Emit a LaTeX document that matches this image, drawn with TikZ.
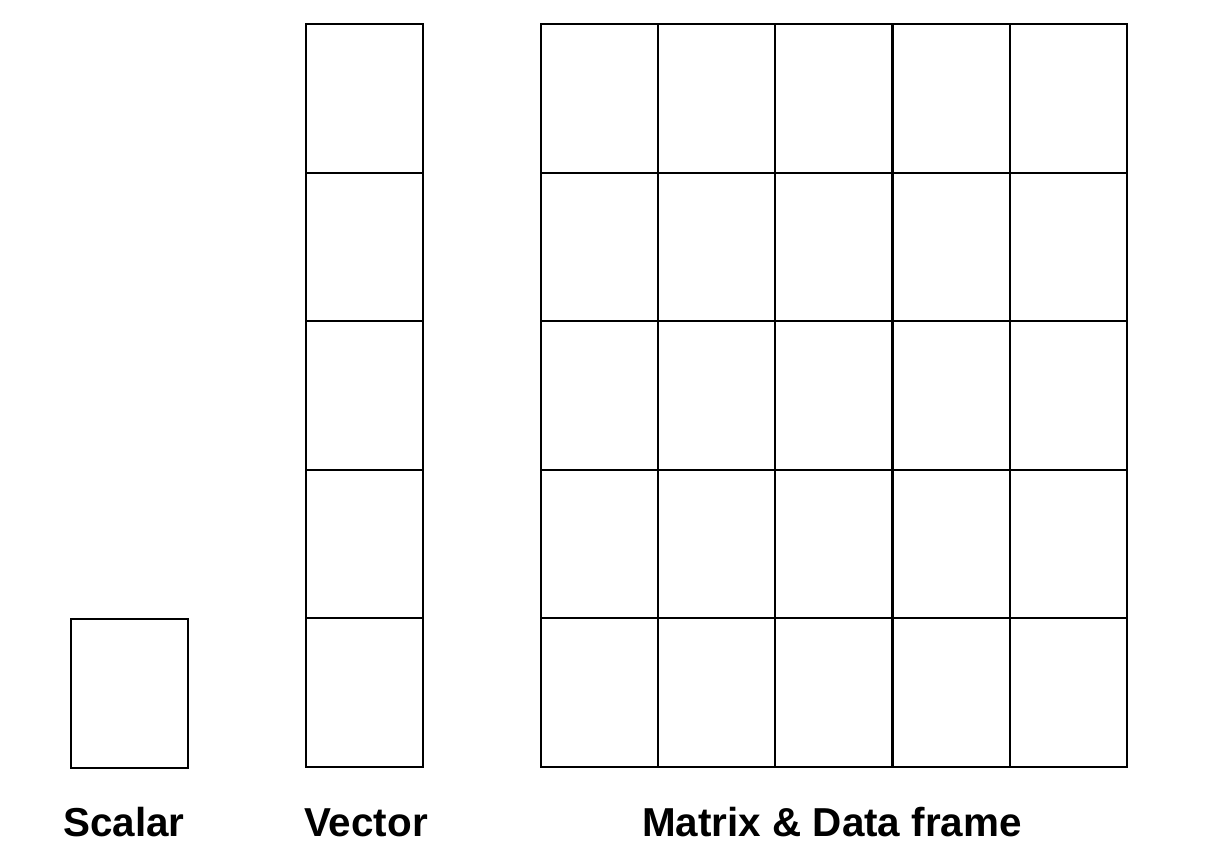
\documentclass[tikz,border=0pt]{standalone}
\usepackage{fontspec}
\setmainfont{Liberation Sans}
\begin{document}
\begin{tikzpicture}[x=0.02cm,y=-0.02cm,
  cell/.style={draw=black,line width=1.1pt,minimum width=117*0.02cm,minimum height=148.6*0.02cm,inner sep=0pt,anchor=north west},
  lab/.style={font=\bfseries\fontsize{23}{26}\selectfont,anchor=base}]
\useasboundingbox (0,0) rectangle (1212,864);
\node[cell] (s) at (70,618) {};
\foreach \r in {0,...,4}{
  \node[cell] (v\r) at (305,{23+\r*148.6}) {};
  \foreach \c in {0,...,4}{
    \node[cell] (m\r\c) at ({540+\c*117.2},{23+\r*148.6}) {};
  }
}
\node[lab] (ls) at (124,836) {Scalar};
\node[lab] (lv) at (366,836) {Vector};
\node[lab] (lm) at (832,836) {Matrix \& Data frame};
\end{tikzpicture}
\end{document}
